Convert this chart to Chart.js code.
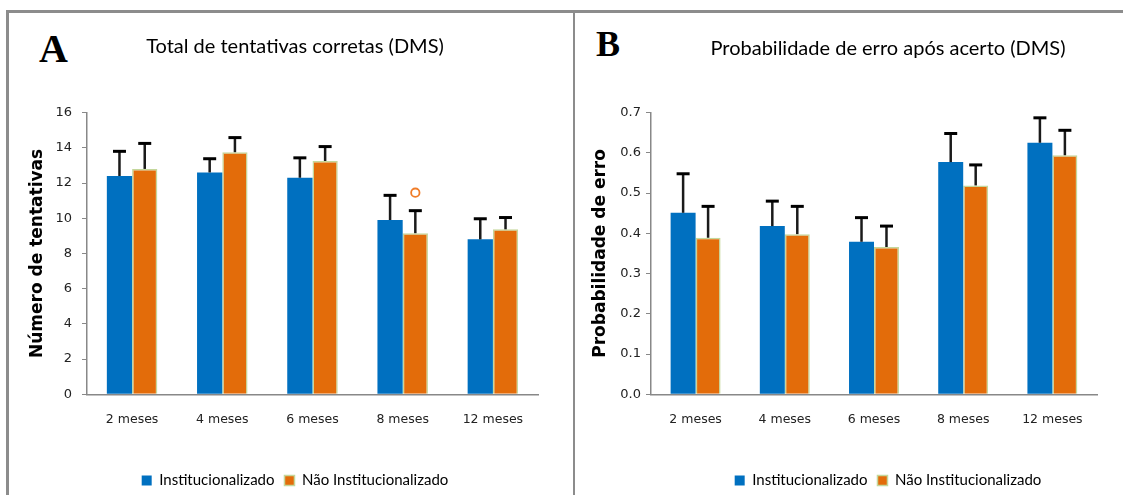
<!DOCTYPE html>
<html>
<head>
<meta charset="utf-8">
<script src="https://cdn.jsdelivr.net/npm/chart.js@4.4.1/dist/chart.umd.min.js"></script>
<style>
  body { margin: 0; width: 1123px; height: 495px; overflow: hidden; background: #fff; position: relative; }
  .linha { position: absolute; background: #8c8c8c; }
  .letra { position: absolute; font-family: "Liberation Serif", serif; font-weight: bold; line-height: 1; color: #000; }
  .painel { position: absolute; top: 12px; height: 486px; }
</style>
</head>
<body>
<div class="linha" style="left:6px; top:10px; width:1117px; height:2.5px"></div>
<div class="linha" style="left:6px; top:10px; width:2.5px; height:485px"></div>
<div class="linha" style="left:572.5px; top:10px; width:2.5px; height:485px"></div>
<div class="letra" style="left:39px; top:29px; font-size:40px">A</div>
<div class="letra" style="left:596px; top:25.6px; font-size:36px">B</div>
<div class="painel" style="left:10px; width:570px"><canvas id="chartA"></canvas></div>
<div class="painel" style="left:580px; width:616px"><canvas id="chartB"></canvas></div>
<script>
const categorias = ['2 meses', '4 meses', '6 meses', '8 meses', '12 meses'];

// A - total de tentativas corretas
const tentInst = [12.4, 12.6, 12.3, 9.9, 8.8];
const tentInstErr = [1.4, 0.78, 1.13, 1.4, 1.17];
const tentNaoInst = [12.8, 13.75, 13.25, 9.15, 9.37];
const tentNaoInstErr = [1.45, 0.83, 0.82, 1.28, 0.67];
const tentNaoInstOutlier = [null, null, null, 11.45, null];

// B - probabilidade de erro apos acerto
const probInst = [0.451, 0.418, 0.379, 0.577, 0.625];
const probInstErr = [0.097, 0.062, 0.06, 0.071, 0.062];
const probNaoInst = [0.389, 0.398, 0.366, 0.519, 0.594];
const probNaoInstErr = [0.078, 0.069, 0.052, 0.051, 0.062];

const azul = '#0070c0';
const laranja = '#e36c0a';
const verdeBorda = '#c4d79b';
const cinzaEixo = '#888888';

const errorBars = {
  id: 'errorBars',
  afterDatasetsDraw(chart) {
    const ctx = chart.ctx;
    const y = chart.scales.y;
    chart.data.datasets.forEach((ds, i) => {
      if (!ds.erros) return;
      chart.getDatasetMeta(i).data.forEach((bar, j) => {
        const topo = y.getPixelForValue(ds.data[j] + ds.erros[j]);
        ctx.save();
        ctx.strokeStyle = '#1a1a1a';
        ctx.lineWidth = 2.5;
        ctx.beginPath();
        ctx.moveTo(bar.x, bar.y);
        ctx.lineTo(bar.x, topo);
        ctx.stroke();
        ctx.strokeStyle = '#000';
        ctx.lineWidth = 3;
        ctx.beginPath();
        ctx.moveTo(bar.x - 6.5, topo);
        ctx.lineTo(bar.x + 6.5, topo);
        ctx.stroke();
        ctx.restore();
      });
      if (ds.outliers) {
        chart.getDatasetMeta(i).data.forEach((bar, j) => {
          if (ds.outliers[j] == null) return;
          ctx.save();
          ctx.strokeStyle = '#f07c28';
          ctx.lineWidth = 1.8;
          ctx.beginPath();
          ctx.arc(bar.x, y.getPixelForValue(ds.outliers[j]), 4.2, 0, Math.PI * 2);
          ctx.stroke();
          ctx.restore();
        });
      }
    });
  }
};

function makeChart(cfg) {
  return new Chart(document.getElementById(cfg.id), {
    type: 'bar',
    data: {
      labels: categorias,
      datasets: [{
        label: 'Institucionalizado',
        data: cfg.inst,
        erros: cfg.instErr,
        backgroundColor: azul,
        borderWidth: 0
      }, {
        label: 'Não Institucionalizado',
        data: cfg.naoInst,
        erros: cfg.naoInstErr,
        outliers: cfg.outliers,
        backgroundColor: laranja,
        borderColor: verdeBorda,
        borderWidth: 1.5
      }]
    },
    options: {
      responsive: true,
      maintainAspectRatio: false,
      animation: false,
      layout: { padding: 0 },
      datasets: { bar: { categoryPercentage: 0.56, barPercentage: 1 } },
      plugins: {
        title: {
          display: true,
          text: cfg.titulo,
          color: '#000',
          font: { family: 'Lato', size: 20, weight: 'normal' },
          padding: cfg.titlePad
        },
        legend: {
          position: 'bottom',
          labels: {
            color: '#000',
            font: { family: 'Lato', size: 15 },
            boxWidth: 10,
            boxHeight: 10,
            padding: 10
          }
        },
        tooltip: { enabled: false }
      },
      scales: {
        x: {
          grid: { display: false, drawTicks: false },
          border: { color: cinzaEixo, width: 1.5 },
          ticks: { color: '#222', font: { family: 'DejaVu Sans', size: 12.5 }, padding: 18 },
          afterFit: s => { s.height = 68.7; }
        },
        y: {
          min: cfg.min,
          max: cfg.max,
          grid: { drawOnChartArea: false, tickLength: 5, color: cinzaEixo },
          border: { color: cinzaEixo, width: 1.5 },
          ticks: {
            stepSize: cfg.step,
            color: '#222',
            font: { family: 'DejaVu Sans', size: 13 },
            padding: cfg.tickPad,
            callback: cfg.fmt
          },
          title: {
            display: true,
            text: cfg.tituloY,
            color: '#000',
            font: { family: 'DejaVu Sans', size: 17, weight: 'bold' },
            padding: { top: cfg.yTitlePad, bottom: 0 }
          },
          afterFit: s => { s.width = cfg.yWidth; }
        },
        // eixo vazio a direita, so para reservar espaco
        y2: {
          position: 'right',
          grid: { display: false },
          border: { display: false },
          ticks: { display: false },
          afterFit: s => { s.width = cfg.rightWidth; }
        }
      }
    },
    plugins: [errorBars]
  });
}

makeChart({
  id: 'chartA',
  titulo: 'Total de tentativas corretas (DMS)',
  tituloY: 'Número de tentativas',
  inst: tentInst, instErr: tentInstErr,
  naoInst: tentNaoInst, naoInstErr: tentNaoInstErr,
  outliers: tentNaoInstOutlier,
  min: 0, max: 16, step: 2, fmt: v => v,
  tickPad: 10, yWidth: 77, yTitlePad: 17, rightWidth: 42,
  titlePad: { top: 23, bottom: 53.6 }
});

makeChart({
  id: 'chartB',
  titulo: 'Probabilidade de erro após acerto (DMS)',
  tituloY: 'Probabilidade de erro',
  inst: probInst, instErr: probInstErr,
  naoInst: probNaoInst, naoInstErr: probNaoInstErr,
  outliers: null,
  min: 0, max: 0.7, step: 0.1, fmt: v => v.toFixed(1),
  tickPad: 5, yWidth: 71, yTitlePad: 10, rightWidth: 99,
  titlePad: { top: 25, bottom: 51.6 }
});
</script>
</body>
</html>
